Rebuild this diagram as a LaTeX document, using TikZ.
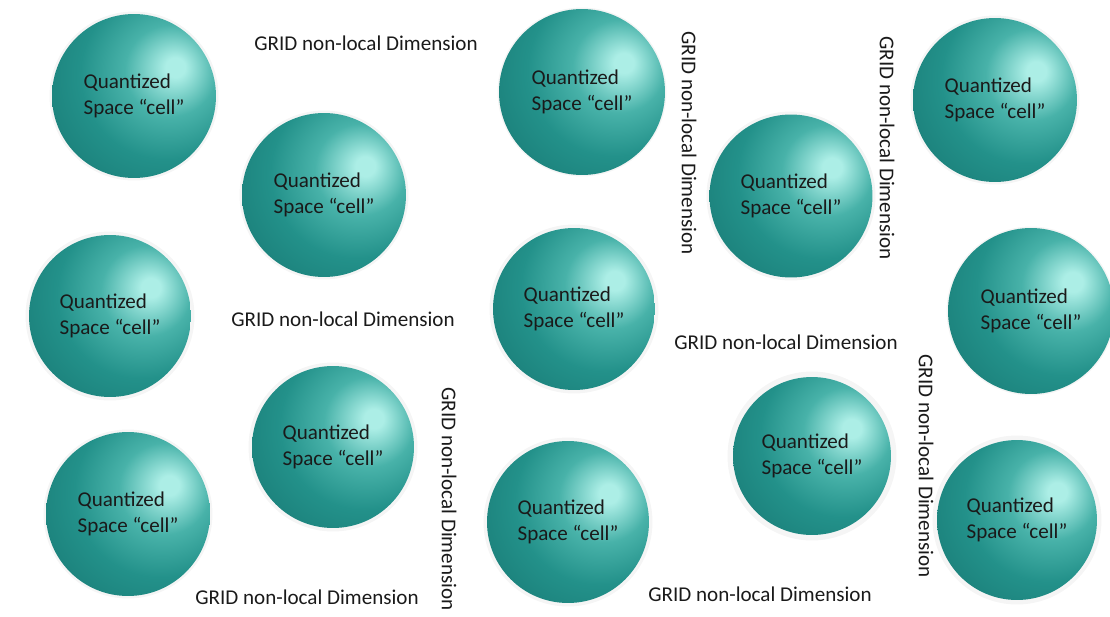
\documentclass[tikz,border=0pt]{standalone}
\usepackage{fontspec}
\setmainfont{Carlito}
\usepackage{tikz}
\usetikzlibrary{positioning}

\definecolor{cellhi}{HTML}{ACEEE6}
\definecolor{cellmid}{HTML}{48B2A9}
\definecolor{cellbase}{HTML}{23918A}
\definecolor{celldark}{HTML}{167570}
\definecolor{cellrim}{HTML}{0E5A56}
\definecolor{labelgray}{HTML}{1A1A1A}

\pgfdeclareradialshading{cellball}{\pgfpoint{13bp}{9bp}}{%
  color(0bp)=(cellhi); color(3bp)=(cellhi);
  color(14bp)=(cellmid); color(26bp)=(cellbase);
  color(46bp)=(celldark); color(62bp)=(cellrim);
  color(100bp)=(cellrim)}

\begin{document}
\begin{tikzpicture}[x=0.02cm,y=-0.02cm,
                cell/.style={circle, shading=cellball, minimum size=3.28cm,
                    inner sep=0pt, align=left, text=labelgray,
                    font=\fontsize{12}{14.8}\selectfont},
                halo/.style={circle, fill=black!4, minimum size=3.38cm, inner sep=0pt},
                grid/.style={text=labelgray, inner sep=0pt,
                    font=\fontsize{12}{14.8}\selectfont},
                gridv/.style={grid, rotate=-90},]
            \useasboundingbox (0,0) rectangle (1110,616);
            % soft shadows round the cells
            \foreach \x/\y in {134/96,324/195,110/316,333/447,128/514,582/92,
                791/196,574/309,812/456,568/522,995/100,1031/311,1017/520}
                \node[halo] at (\x,\y) {};
            % quantized cells
            \node[cell] (c1) at (134,96) {Quantized\\Space “cell”};
            \node[cell] (c2) at (324,195) {Quantized\\Space “cell”};
            \node[cell, minimum size=3.24cm] (c3) at (110,316) {Quantized\\Space “cell”};
            \node[cell, minimum size=3.24cm] (c4) at (333,447) {Quantized\\Space “cell”};
            \node[cell] (c5) at (128,514) {Quantized\\Space “cell”};
            \node[cell, minimum size=3.32cm] (c6) at (582,92) {Quantized\\Space “cell”};
            \node[cell, minimum size=3.26cm] (c7) at (791,196) {Quantized\\Space “cell”};
            \node[cell, minimum size=3.24cm] (c8) at (574,309) {Quantized\\Space “cell”};
            \node[cell, minimum size=3.16cm] (c9) at (812,456) {Quantized\\Space “cell”};
            \node[cell, minimum size=3.24cm] (c10) at (568,522) {Quantized\\Space “cell”};
            \node[cell] (c11) at (995,100) {Quantized\\Space “cell”};
            \node[cell, minimum size=3.32cm] (c12) at (1031,311) {Quantized\\Space “cell”};
            \node[cell, minimum size=3.2cm] (c13) at (1017,520) {Quantized\\Space “cell”};
            % grid dimensions
            \node[grid] (h1) at (366,43) {GRID non-local Dimension};
            \node[grid] (h2) at (343,319) {GRID non-local Dimension};
            \node[grid] (h3) at (786,342) {GRID non-local Dimension};
            \node[grid] (h4) at (307,597) {GRID non-local Dimension};
            \node[grid] (h5) at (760,594) {GRID non-local Dimension};
            \node[gridv] (v1) at (689,143) {GRID non-local Dimension};
            \node[gridv] (v2) at (887,148) {GRID non-local Dimension};
            \node[gridv] (v3) at (449,499) {GRID non-local Dimension};
            \node[gridv] (v4) at (926,466) {GRID non-local Dimension};
        \end{tikzpicture}
\end{document}
